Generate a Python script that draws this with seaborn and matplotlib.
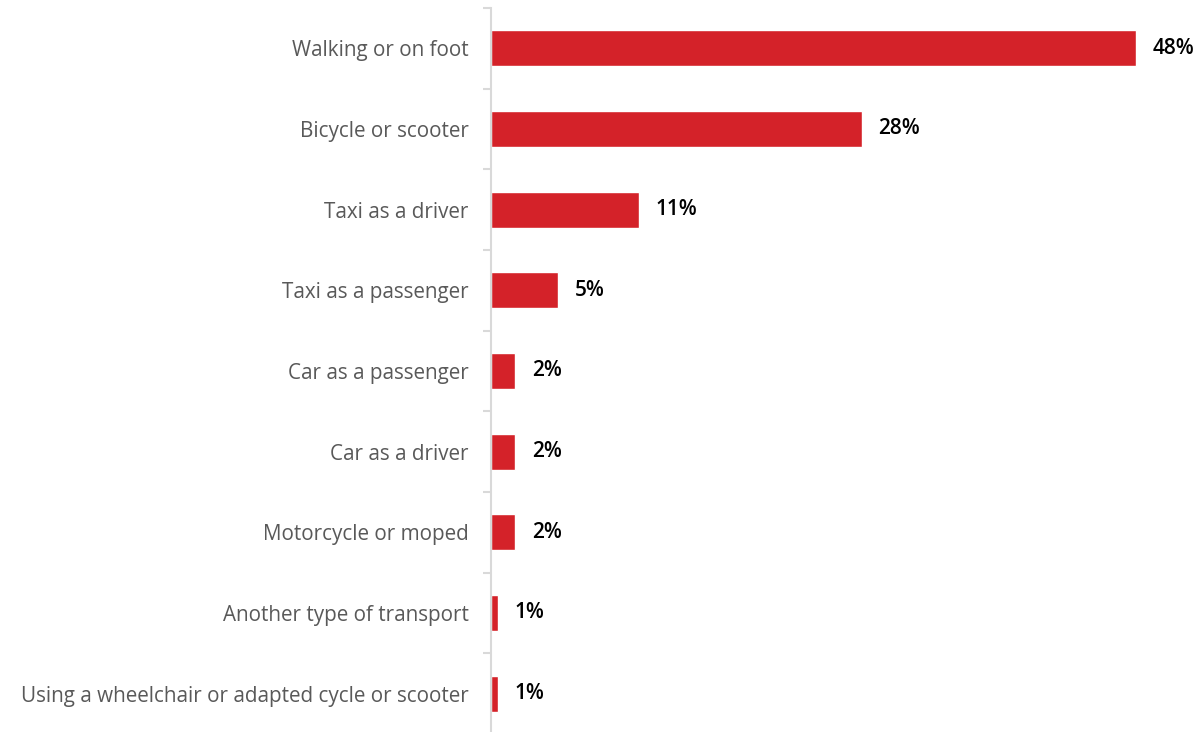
import matplotlib
matplotlib.use("Agg")
import matplotlib.pyplot as plt
import numpy as np
import pandas as pd
import seaborn as sns

# data
modes = ["Walking or on foot", "Bicycle or scooter", "Taxi as a driver",
         "Taxi as a passenger", "Car as a passenger", "Car as a driver",
         "Motorcycle or moped", "Another type of transport",
         "Using a wheelchair or adapted cycle or scooter"]
shares = [48.0, 27.6, 11.0, 5.0, 1.8, 1.8, 1.8, 0.5, 0.5]
share_labels = ["48%", "28%", "11%", "5%", "2%", "2%", "2%", "1%", "1%"]

df = pd.DataFrame({"mode": modes, "share": shares})

sns.set_style("white")
plt.rcParams["font.family"] = ["Open Sans", "DejaVu Sans"]

fig = plt.figure(figsize=(12.02, 7.32), dpi=100)
ax = fig.add_axes([491 / 1202, -2 / 732, 711 / 1202, 726 / 732])

sns.barplot(data=df, x="share", y="mode", color="#D42229", width=0.45,
            saturation=1, ax=ax)

# value labels
ax.bar_label(ax.containers[0], labels=share_labels, padding=12,
             fontsize=15, fontweight="semibold", color="black")

ax.set_xlim(0, 52.9)
ax.set_ylim(len(modes) - 0.5, -0.5)
ax.set_xlabel("")
ax.set_ylabel("")
ax.set_xticks([])

for s in ["top", "right", "bottom"]:
    ax.spines[s].set_visible(False)
ax.spines["left"].set_color("#d9d9d9")
ax.spines["left"].set_linewidth(1.5)

# category labels, boundary ticks
ax.tick_params(axis="y", which="major", left=False, length=0, pad=16,
               labelsize=14.9, labelcolor="#595959")
ax.set_yticks(np.arange(len(modes)) - 0.5, minor=True)
ax.tick_params(axis="y", which="minor", left=True, length=6,
               color="#d9d9d9", width=1.5)

fig.savefig("out.png", dpi=100)
